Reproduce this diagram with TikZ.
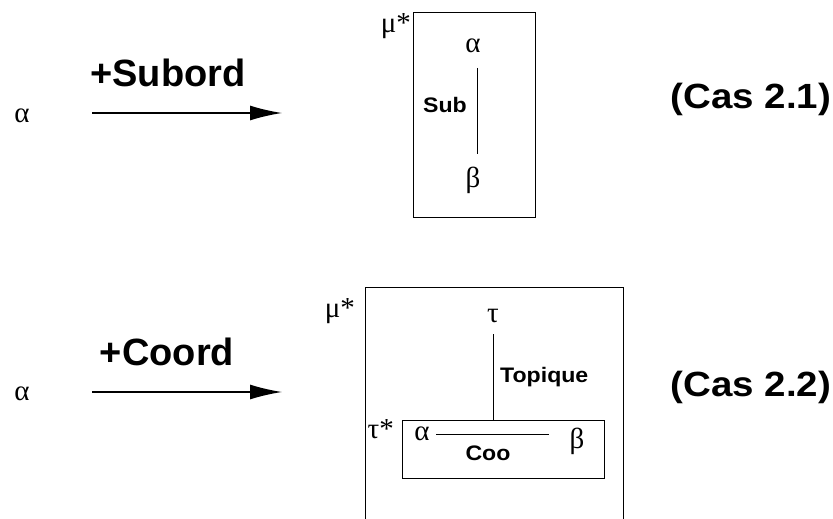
\documentclass[tikz,border=0pt]{standalone}
\usepackage{fontspec}
\setmainfont{Liberation Serif}
\newfontfamily\hv{Liberation Sans}
\usetikzlibrary{arrows.meta}
\newcommand{\wide}[1]{\scalebox{1.1}[1]{#1}}
\tikzset{
  greek/.style={inner sep=0pt, font=\fontsize{29}{31}\selectfont},
  biglab/.style={inner sep=0pt, anchor=base, font=\hv\bfseries\fontsize{38}{40}\selectfont},
  caslab/.style={inner sep=0pt, anchor=base, font=\hv\bfseries\fontsize{35}{38}\selectfont},
  smalllab/.style={inner sep=0pt, anchor=base, font=\hv\bfseries\fontsize{21}{23}\selectfont},
  frame/.style={draw, line width=1pt},
  link/.style={line width=1pt},
  bigarrow/.style={line width=1.5pt, -{Latex[length=32pt,width=15pt]}}
}
\begin{document}
\begin{tikzpicture}[x=1pt,y=-1pt]
\useasboundingbox (0,0) rectangle (833,519);
% ---- case 2.1
\node[greek, anchor=base] (a1) at (22,122) {α};
\coordinate (s1) at (92,113);
\coordinate (e1) at (282,113);
\draw[bigarrow] (s1) -- (e1);
\node[biglab] (sub) at (168,87) {+Subord};
\node[frame, minimum width=122pt, minimum height=204pt, inner sep=0pt] (box1) at (474,115) {};
\node[greek, anchor=base east] (mu1) at (411,33) {μ*};
\node[greek, anchor=base] (al1) at (473,53) {α};
\node[greek, anchor=base] (be1) at (473,187) {β};
\coordinate (l1a) at (477,68);
\coordinate (l1b) at (477,154);
\draw[link] (l1a) -- (l1b);
\node[smalllab] (sublab) at (445,113) {\wide{Sub}};
\node[caslab] (cas1) at (751,108) {\wide{(Cas 2.1)}};
% ---- case 2.2
\node[greek, anchor=base] (a2) at (22,400) {α};
\coordinate (s2) at (92,392);
\coordinate (e2) at (282,392);
\draw[bigarrow] (s2) -- (e2);
\node[biglab] (coord) at (167,365) {+Coord};
\coordinate (b2bl) at (365,521);
\coordinate (b2tl) at (365,287);
\coordinate (b2tr) at (623,287);
\coordinate (b2br) at (623,521);
\draw[line width=1pt] (b2bl) -- (b2tl) -- (b2tr) -- (b2br);
\node[greek, anchor=base east] (mu2) at (355,317) {μ*};
\node[greek, anchor=base] (tau) at (493,322) {τ};
\node[frame, minimum width=202pt, minimum height=58pt, inner sep=0pt] (inner) at (503,449) {};
\coordinate (l2a) at (493,334);
\draw[link] (l2a) -- (inner.north -| l2a);
\node[smalllab, anchor=base west] (top) at (500,382) {\wide{Topique}};
\node[greek, anchor=base east] (tau2) at (394,438) {τ*};
\node[greek, anchor=base] (al2) at (422,440) {α};
\node[greek, anchor=base] (be2) at (577,448) {β};
\coordinate (l3a) at (436,434);
\coordinate (l3b) at (549,434);
\draw[link] (l3a) -- (l3b);
\node[smalllab] (coo) at (488,460) {\wide{Coo}};
\node[caslab] (cas2) at (751,396) {\wide{(Cas 2.2)}};
\end{tikzpicture}
\end{document}
